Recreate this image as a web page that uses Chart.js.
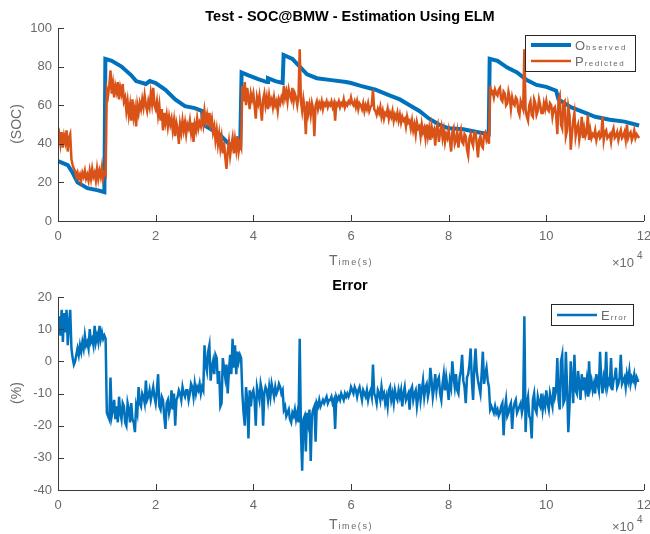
<!DOCTYPE html>
<html><head><meta charset="utf-8">
<script src="https://cdn.jsdelivr.net/npm/chart.js@4"></script>
<style>
html,body{margin:0;padding:0;background:#fff;}
#wrap{position:relative;width:650px;height:534px;background:#fff;}
.c{position:absolute;left:0;width:650px;height:267px;}
</style></head><body>
<div id="wrap">
<div class="c" style="top:0"><canvas id="topChart" width="650" height="267"></canvas></div>
<div class="c" style="top:267px"><canvas id="botChart" width="650" height="267"></canvas></div>
</div>
<script>
// ---------------- DATA ----------------
const SAMPLE_STEP_S = 250;               // seconds between samples of the noisy series
const xTickValues = [0, 20000, 40000, 60000, 80000, 100000, 120000];

// Observed SOC (smooth curve): breakpoints
const obsTime = [0,2000,3000,4000,6000,8000,9500,9700,11000,13000,15000,16000,18000,18800,20000,22000,24000,26000,28000,29500,29700,31000,33000,35000,37000,37300,37600,39000,41000,42800,43000,44500,46000,46200,48000,49500,51000,53000,56000,59000,60000,62000,65000,68000,70000,72000,74000,76000,78000,80000,83000,86000,88200,88400,90000,92000,94000,96000,98000,100000,102000,102500,105000,108000,110000,113000,116000,119000];
const obsSOC  = [31,29,25,20,17,16,15,84,83,80,75.5,72.5,71,72.5,71.5,68,63,59.5,58.5,57,50,48,45,40,38,38,77,75.5,73.5,72,74,72.5,71.5,86,84,80,76,74,73,72,71.5,70,68,65,63,60,57,53,50,48,47.5,46,45,84,83,79.5,77,73,70.5,69.5,67.5,63,59,56,54,52.5,51.5,49.5];

// Predicted SOC, one value every 250 s from t = 0 (rows of 10 000 s)
const predSOC = [
 42,45,40,46,38,44,41,47,36,43,45,32,29,27,26,23,25,22,24,21,25,23,26,22,24,21,26,22,27,23,25,21,27,22,26,23,28,22,25,24,
 68,65,70,78,66,71,64,70,67,72,63,69,66,71,62,64,57,62,55,60,52,63,54,58,49,60,56,61,58,63,59,65,60,57,62,59,66,61,69,60,
 58,62,55,60,52,58,47,56,51,55,49,54,50,53,47,52,44,51,48,40,50,46,52,47,51,45,50,48,52,46,51,41,50,47,53,48,51,49,54,50,
 57,52,55,49,56,50,53,46,49,42,47,40,45,38,43,35,41,33,27,36,41,34,39,43,35,42,37,44,36,40,38,70,62,72,60,69,64,58,66,63,
 66,60,53,64,61,65,59,52,63,66,60,64,58,65,61,63,59,64,60,62,57,63,61,64,62,70,64,67,62,68,65,63,69,62,66,64,60,65,89,62,
 57,63,58,45,62,56,60,55,61,58,44,60,62,58,61,59,62,58,61,60,62,59,61,60,62,59,61,52,61,60,62,59,61,60,63,59,61,60,62,61,
 64,61,60,62,59,62,58,61,60,58,61,57,60,58,61,57,59,60,68,58,57,55,58,56,59,54,57,53,56,55,58,53,56,54,57,52,55,53,56,52,
 55,51,54,52,53,49,54,51,52,48,52,47,50,45,51,48,49,44,50,46,48,43,50,44,48,42,49,45,47,39,48,50,41,46,49,43,47,41,45,43,
 47,42,36,46,48,40,42,46,38,44,47,41,40,45,44,37,34,43,45,41,39,46,46,40,33,42,44,39,38,45,46,42,44,40,70,66,67,64,68,66,
 65,68,69,63,62,67,66,60,61,67,64,58,64,61,60,64,63,57,55,62,60,58,89,58,54,52,60,62,55,54,63,61,55,57,63,60,56,56,61,58,
 62,58,57,61,60,54,58,59,55,45,63,65,50,48,61,62,44,47,59,55,37,45,52,56,44,48,50,42,46,54,43,48,44,46,55,42,47,43,45,44,
 47,42,45,46,43,44,54,42,46,47,43,44,45,41,46,48,43,44,46,42,45,47,43,44,46,42,50,43,45,46,42,44,47,43,45,44,43
];

// Error (%), one value every 250 s from t = 0 (rows of 10 000 s)
const errPct = [
 10,14,8,16,6,15,9,16,5,12,16,4,1,-1,0,2,4,2,5,3,6,4,8,5,6,4,10,6,7,5,11,6,8,6,11,7,9,7,8,7,
 -16,-17,-18,-5,-17,-15,-12,-18,-14,-19,-11,-16,-18,-13,-14,-19,-20,-13,-15,-19,-13,-18,-19,-22,-14,-16,-8,-13,-14,-10,-11,-13,-6,-12,-11,-9,-12,-10,-8,-11,
 -13,-9,-4,-14,-15,-11,-12,-17,-21,-13,-12,-16,-14,-9,-15,-10,-20,-12,-11,-9,-10,-12,-8,-10,-11,-9,-9,-12,-10,-7,-8,-11,-7,-10,-8,-9,-7,-10,-8,-9,
 5,-1,-3,3,5,-6,-2,0,-4,2,1,-7,-3,-14,-13,1,-2,-5,-1,-10,-3,2,-4,7,-2,5,-4,3,0,2,1,-10,-16,-20,-8,-12,-24,-9,-14,-10,
 -9,-12,-20,-8,-10,-12,-7,-9,-20,-10,-8,-9,-12,-8,-11,-7,-9,-11,-8,-10,-9,-7,-8,-10,-9,-15,-14,-17,-16,-15,-18,-19,-16,-17,-15,-18,-16,-19,7,-22,
 -34,-18,-17,-28,-16,-19,-15,-31,-17,-15,-14,-25,-13,-14,-12,-14,-13,-12,-13,-12,-11,-13,-12,-12,-11,-13,-12,-21,-11,-12,-11,-12,-10,-11,-12,-10,-11,-10,-11,-10,
 -8,-9,-10,-8,-9,-11,-9,-8,-10,-12,-9,-10,-11,-9,-12,-10,-9,-11,-1,-10,-11,-13,-9,-10,-12,-8,-11,-10,-13,-11,-14,-9,-8,-12,-10,-13,-9,-11,-12,-9,
 -11,-9,-14,-10,-8,-12,-11,-10,-15,-9,-8,-12,-10,-9,-14,-11,-7,-12,-9,-6,-11,-8,-7,-11,-9,-2,-6,-11,-8,-4,-9,-6,-5,-10,-12,-7,-4,-9,-5,-8,
 -12,-6,-8,0,-5,-8,-4,-9,-10,-5,-3,2,-6,-8,-13,-5,-4,-1,4,-6,-12,-2,4,-3,-6,-8,-10,-4,3,-7,-4,-2,-6,-8,-15,-14,-15,-16,-14,-16,
 -15,-17,-16,-14,-13,-23,-15,-12,-17,-16,-14,-13,-21,-15,-13,-12,-16,-15,-14,-13,-16,-14,14,-22,-13,-11,-17,-18,-24,-12,-10,-15,-16,-11,-13,-14,-10,-15,-12,-14,
 -9,-13,-15,-10,-12,-14,-8,-11,-9,1,-12,-15,0,2,-13,-12,3,-8,-22,-14,0,-6,-13,2,-9,-10,-3,-7,-12,-4,-9,-5,-9,-6,-11,0,-8,-6,-9,-7,
 -10,-4,-7,-9,3,-6,-10,-5,-7,3,-8,-6,-7,1,-9,-6,-5,-2,-8,-7,-5,2,-7,-6,-5,-8,-4,-6,-3,-7,-5,-6,-4,-7,-5,-6,-6
];

const topTitle = 'Test - SOC@BMW - Estimation Using ELM';
const botTitle = 'Error';
const seriesNames = ['Observed', 'Predicted', 'Error'];

// ---------------- HELPERS ----------------
const BLUE = '#0072BD', ORANGE = '#D95319';
const AXIS = '#3a3a3a', TXT = '#6a6a6a';
const FONT = '"Liberation Sans", Arial, sans-serif';

function sampled(values){ return values.map((v,i)=>({x:i*SAMPLE_STEP_S, y:v})); }
function paired(xs, ys){ return xs.map((x,i)=>({x:x, y:ys[i]})); }

function drawSmallCaps(ctx, text, x, y, bigSize, smallSize, spacing, align){
  const first = text[0], rest = text.slice(1);
  ctx.save();
  ctx.fillStyle = TXT;
  ctx.textAlign = 'left';
  ctx.textBaseline = 'alphabetic';
  ctx.font = bigSize + 'px ' + FONT;
  const w1 = ctx.measureText(first).width;
  ctx.font = smallSize + 'px ' + FONT;
  ctx.letterSpacing = spacing + 'px';
  const w2 = ctx.measureText(rest).width;
  let sx = align === 'center' ? x - (w1 + 1 + w2)/2 : x;
  ctx.letterSpacing = '0px';
  ctx.font = bigSize + 'px ' + FONT;
  ctx.fillText(first, sx, y);
  ctx.font = smallSize + 'px ' + FONT;
  ctx.letterSpacing = spacing + 'px';
  ctx.fillText(rest, sx + w1 + 1, y);
  ctx.restore();
}

function decoPlugin(cfg){
  return {
    id: 'deco',
    afterDraw(chart){
      const ctx = chart.ctx, a = chart.chartArea;
      const xs = chart.scales.x, ys = chart.scales.y;
      ctx.save();
      ctx.strokeStyle = AXIS; ctx.lineWidth = 1;
      ctx.beginPath();
      ctx.moveTo(Math.round(a.left)+0.5, a.top);
      ctx.lineTo(Math.round(a.left)+0.5, Math.round(a.bottom)+0.5);
      ctx.lineTo(a.right, Math.round(a.bottom)+0.5);
      ctx.stroke();
      ctx.beginPath();
      xs.ticks.forEach(t=>{
        const px = Math.round(xs.getPixelForValue(t.value))+0.5;
        ctx.moveTo(px, a.bottom); ctx.lineTo(px, a.bottom-6);
      });
      ys.ticks.forEach(t=>{
        const py = Math.round(ys.getPixelForValue(t.value))+0.5;
        ctx.moveTo(a.left, py); ctx.lineTo(a.left+6, py);
      });
      ctx.stroke();
      // title
      ctx.fillStyle = '#000';
      ctx.font = 'bold 14.5px ' + FONT;
      ctx.textAlign = 'center'; ctx.textBaseline = 'middle';
      ctx.fillText(cfg.title, 350, cfg.titleY);
      // y label
      ctx.save();
      ctx.translate(17, cfg.yLabelY);
      ctx.rotate(-Math.PI/2);
      ctx.fillStyle = TXT;
      ctx.font = '14px ' + FONT;
      ctx.textAlign = 'center'; ctx.textBaseline = 'middle';
      ctx.fillText(cfg.yLabel, 0, 0);
      ctx.restore();
      // x label
      drawSmallCaps(ctx, 'Time(s)', 351, cfg.xLabelY, 14, 9, 1.6, 'center');
      // x10^4
      ctx.fillStyle = TXT;
      ctx.font = '13px ' + FONT;
      ctx.textAlign = 'left'; ctx.textBaseline = 'alphabetic';
      ctx.fillText('\u00d710', 612, cfg.xLabelY + 2);
      ctx.font = '10px ' + FONT;
      ctx.fillText('4', 637, cfg.xLabelY - 6);
      // legend
      const L = cfg.legend;
      ctx.fillStyle = '#fff';
      ctx.fillRect(L.x, L.y, L.w, L.h);
      ctx.strokeStyle = '#262626'; ctx.lineWidth = 1;
      ctx.strokeRect(L.x+0.5, L.y+0.5, L.w, L.h);
      L.items.forEach((it, i)=>{
        const yy = L.y + L.firstY + i*L.rowH;
        ctx.strokeStyle = it.color; ctx.lineWidth = it.width;
        ctx.beginPath(); ctx.moveTo(L.x+L.lineX0, yy); ctx.lineTo(L.x+L.lineX1, yy); ctx.stroke();
        drawSmallCaps(ctx, it.label, L.x+L.textX, yy+4.5, 13, 8, it.sp, 'left');
      });
      ctx.restore();
    }
  };
}

function baseOptions(yMin, yMax, yStep, padTop, xHeight){
  return {
    responsive: false, animation: false, devicePixelRatio: 1,
    layout: { padding: { left: 0, right: 6, top: padTop, bottom: 0 } },
    plugins: { legend: { display: false }, tooltip: { enabled: false } },
    elements: { point: { radius: 0 }, line: { tension: 0 } },
    scales: {
      x: {
        type: 'linear', min: 0, max: 120000,
        afterBuildTicks: s => { s.ticks = xTickValues.map(v=>({value:v})); },
        ticks: { callback: v => String(v/10000), color: TXT, font: { family: FONT, size: 13 }, padding: 8, maxRotation: 0, autoSkip: false },
        grid: { display: false, drawTicks: false }, border: { display: false },
        afterFit: s => { s.height = xHeight; s.paddingLeft = 0; s.paddingRight = 0; }
      },
      y: {
        min: yMin, max: yMax,
        ticks: { stepSize: yStep, color: TXT, font: { family: FONT, size: 13 }, padding: 6 },
        grid: { display: false, drawTicks: false }, border: { display: false },
        afterFit: s => { s.width = 58; s.paddingTop = 0; s.paddingBottom = 0; }
      }
    }
  };
}

new Chart(document.getElementById('topChart'), {
  type: 'line',
  data: { datasets: [
    { label: seriesNames[1], data: sampled(predSOC), borderColor: ORANGE, borderWidth: 2.5, order: 0, fill: false },
    { label: seriesNames[0], data: paired(obsTime, obsSOC), borderColor: BLUE, borderWidth: 4, order: 1, fill: false }
  ]},
  options: baseOptions(0, 100, 20, 28, 46),
  plugins: [decoPlugin({
    title: topTitle, titleY: 17, yLabel: '(SOC)', yLabelY: 124, xLabelY: 265,
    legend: { x: 525, y: 35, w: 110, h: 36, firstY: 10, rowH: 16, lineX0: 6, lineX1: 46, textX: 50,
      items: [ { label: seriesNames[0], color: BLUE, width: 4, sp: 1.8 },
               { label: seriesNames[1], color: ORANGE, width: 2.5, sp: 1.5 } ] }
  })]
});

new Chart(document.getElementById('botChart'), {
  type: 'line',
  data: { datasets: [
    { label: seriesNames[2], data: sampled(errPct), borderColor: BLUE, borderWidth: 2.5, fill: false }
  ]},
  options: baseOptions(-40, 20, 10, 30, 44),
  plugins: [decoPlugin({
    title: botTitle, titleY: 19, yLabel: '(%)', yLabelY: 126, xLabelY: 262,
    legend: { x: 551, y: 37, w: 82, h: 21, firstY: 11, rowH: 16, lineX0: 6, lineX1: 46, textX: 50,
      items: [ { label: seriesNames[2], color: BLUE, width: 2.5, sp: 1.1 } ] }
  })]
});
</script>
</body></html>
